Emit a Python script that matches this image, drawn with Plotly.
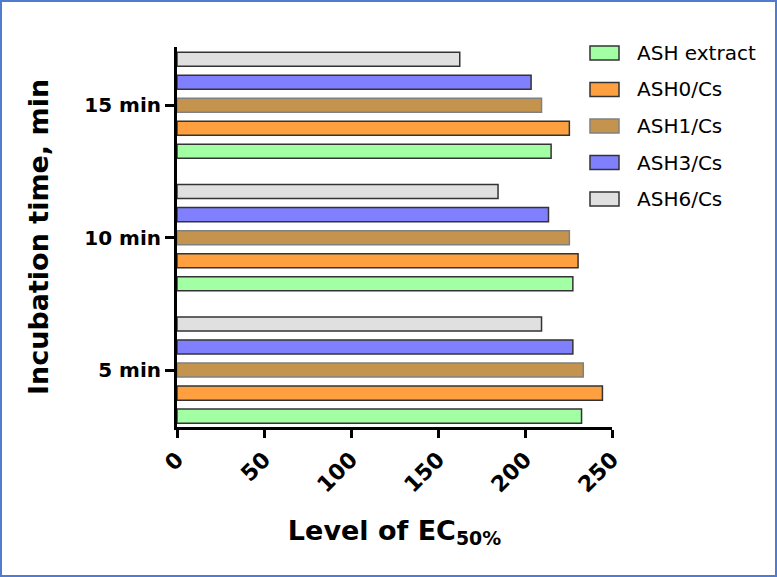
import plotly.graph_objects as go

categories = ["5 min", "10 min", "15 min"]
series_names = ["ASH extract", "ASH0/Cs", "ASH1/Cs", "ASH3/Cs", "ASH6/Cs"]
ash_extract = [232.5, 227.5, 215.0]
ash0 = [244.5, 230.5, 225.5]
ash1 = [233.5, 225.5, 209.5]
ash3 = [227.5, 213.5, 203.5]
ash6 = [209.5, 184.5, 162.5]
x_ticks = [0, 50, 100, 150, 200, 250]

values = [ash_extract, ash0, ash1, ash3, ash6]
fills = ["#A3FFA3", "#FFA040", "#C4944E", "#8080FF", "#E0E0E0"]
lines = ["#333333", "#333333", "#808080", "#333333", "#333333"]

W, H = 777, 577
ML, MR, MT, MB = 177, 165, 47, 150
PW, PH = W - ML - MR, H - MT - MB

def px_x(p):
    return (p - ML) / PW

def px_y(p):
    return (H - MB - p) / PH

BOLD = "DejaVu Sans, Liberation Sans, Arial, sans-serif"

fig = go.Figure()
ypos = list(range(len(categories)))
for name, vals, fc, lc in zip(series_names, values, fills, lines):
    fig.add_trace(go.Bar(
        x=vals, y=ypos, name=name, orientation="h",
        marker=dict(color=fc, line=dict(color=lc, width=1.5)),
        showlegend=False,
    ))

fig.update_layout(
    width=W, height=H,
    margin=dict(l=ML, r=MR, t=MT, b=MB),
    paper_bgcolor="white", plot_bgcolor="white",
    barmode="group", bargap=0.13, bargroupgap=0.39,
    font=dict(family=BOLD, color="black"),
    xaxis=dict(
        range=[0, 250], tickvals=x_ticks, ticktext=["<b>%d</b>" % t for t in x_ticks],
        tickangle=-45, tickfont=dict(size=22, family=BOLD, color="black"),
        ticks="outside", ticklen=8, tickwidth=2.5, tickcolor="black",
        showline=True, linecolor="black", linewidth=3,
        showgrid=False, zeroline=False,
        title=dict(text="<b>Level of EC<sub>50%</sub></b>", font=dict(size=27, family=BOLD), standoff=25),
    ),
    yaxis=dict(
        range=[-0.43, 2.44], tickvals=ypos, ticktext=["<b>%s</b>" % c for c in categories],
        tickfont=dict(size=20, family=BOLD, color="black"),
        ticks="outside", ticklen=9, tickwidth=2.5, tickcolor="black",
        showline=True, linecolor="black", linewidth=3,
        showgrid=False, zeroline=False,
        title=dict(text="<b>Incubation time, min</b>", font=dict(size=27, family=BOLD), standoff=28),
    ),
)

# manual legend (box + label per series)
legend_top = 53
legend_step = 36.5
for i, (name, fc, lc) in enumerate(zip(series_names, fills, lines)):
    cy = legend_top + i * legend_step
    fig.add_shape(type="rect", xref="paper", yref="paper",
                  x0=px_x(590), x1=px_x(619), y0=px_y(cy + 7), y1=px_y(cy - 7),
                  fillcolor=fc, line=dict(color=lc, width=1.5))
    fig.add_annotation(xref="paper", yref="paper", x=px_x(635), y=px_y(cy),
                       xanchor="left", yanchor="middle", showarrow=False,
                       text=name, font=dict(size=20, family="DejaVu Sans, sans-serif", color="black"))

fig.add_shape(type="rect", xref="paper", yref="paper",
              x0=px_x(1), x1=px_x(W - 1), y0=px_y(H - 1), y1=px_y(1),
              line=dict(color="#4F7BD0", width=2), fillcolor="rgba(0,0,0,0)")

fig.write_html("out.html")
